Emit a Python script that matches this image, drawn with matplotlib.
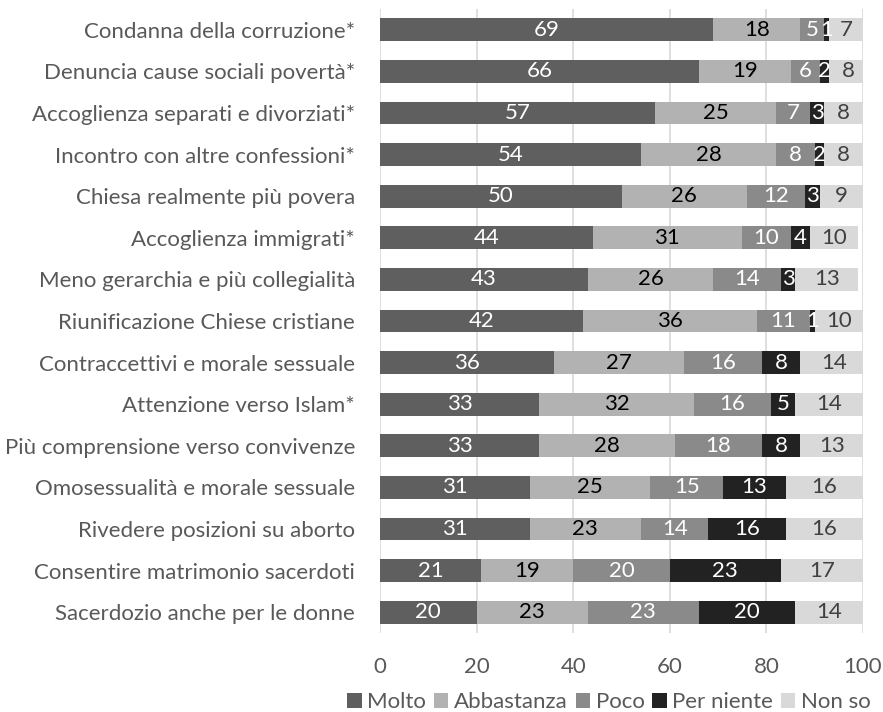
import numpy as np
import matplotlib
matplotlib.use("Agg")
from matplotlib import pyplot as plt

plt.rcParams['font.family'] = ['Lato', 'DejaVu Sans']

categories = [
    "Condanna della corruzione*",
    "Denuncia cause sociali povertà*",
    "Accoglienza separati e divorziati*",
    "Incontro con altre confessioni*",
    "Chiesa realmente più povera",
    "Accoglienza immigrati*",
    "Meno gerarchia e più collegialità",
    "Riunificazione Chiese cristiane",
    "Contraccettivi e morale sessuale",
    "Attenzione verso Islam*",
    "Più comprensione verso convivenze",
    "Omosessualità e morale sessuale",
    "Rivedere posizioni su aborto",
    "Consentire matrimonio sacerdoti",
    "Sacerdozio anche per le donne",
]

molto      = [69, 66, 57, 54, 50, 44, 43, 42, 36, 33, 33, 31, 31, 21, 20]
abbastanza = [18, 19, 25, 28, 26, 31, 26, 36, 27, 32, 28, 25, 23, 19, 23]
poco       = [5, 6, 7, 8, 12, 10, 14, 11, 16, 16, 18, 15, 14, 20, 23]
per_niente = [1, 2, 3, 2, 3, 4, 3, 1, 8, 5, 8, 13, 16, 23, 20]
non_so     = [7, 8, 8, 8, 9, 10, 13, 10, 14, 14, 13, 16, 16, 17, 14]

series_names = ["Molto", "Abbastanza", "Poco", "Per niente", "Non so"]
series = [molto, abbastanza, poco, per_niente, non_so]
colors = ["#5f5f5f", "#b2b2b2", "#8a8a8a", "#222222", "#d9d9d9"]
label_colors = ["white", "black", "white", "white", "#404040"]

text_gray = "#595959"
fs = 16

fig = plt.figure(figsize=(8.83, 7.12), dpi=100)
ax = fig.add_axes([380 / 883, 1 - 633 / 712, 483 / 883, 624 / 712])

y = np.arange(len(categories))
left = np.zeros(len(categories))
bars = []
for name, vals, col, tcol in zip(series_names, series, colors, label_colors):
    vals = np.array(vals, dtype=float)
    b = ax.barh(y, vals, left=left, height=0.55, color=col, label=name, zorder=3)
    for yi, l, v in zip(y, left, vals):
        ax.text(l + v / 2, yi, f"{int(v)}", ha='center', va='center',
                color=tcol, fontsize=fs, zorder=4)
    left += vals
    bars.append(b)

ax.set_xlim(0, 100)
ax.set_ylim(len(categories) - 0.5, -0.5)
ax.set_xticks(range(0, 101, 20))
ax.set_yticks(y)
ax.set_yticklabels(categories)
ax.tick_params(axis='y', length=0, pad=18, labelsize=fs, labelcolor=text_gray)
ax.tick_params(axis='x', length=0, pad=17, labelsize=fs, labelcolor=text_gray)
ax.grid(axis='x', color='#d9d9d9', linewidth=1.2, zorder=0)
for s in ax.spines.values():
    s.set_visible(False)

# legend sits under the plot area, slightly right of figure centre
fig.legend(handles=bars, labels=series_names, loc='center', ncol=5,
           bbox_to_anchor=(609 / 883, 1 - 702 / 712), frameon=False,
           fontsize=fs, labelcolor=text_gray, handlelength=0.65, handleheight=0.65,
           handletextpad=0.25, columnspacing=0.35, borderaxespad=0, borderpad=0)

fig.savefig("out.png", dpi=100)
